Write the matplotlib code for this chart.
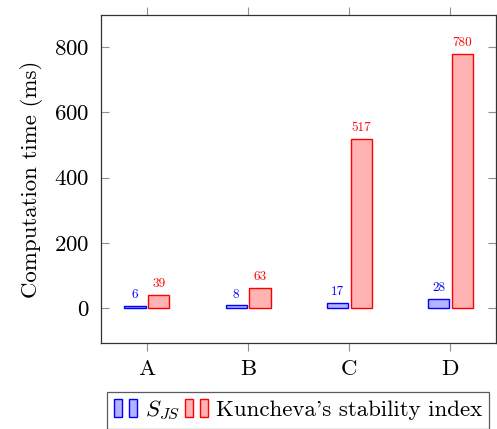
import matplotlib
matplotlib.use("Agg")
import matplotlib.pyplot as plt
from matplotlib.patches import Rectangle
from matplotlib.legend_handler import HandlerBase
from matplotlib.container import BarContainer
import numpy as np

categories = ["A", "B", "C", "D"]
sjs_times = [6, 8, 17, 28]
kuncheva_times = [39, 63, 517, 780]

plt.rcParams["font.family"] = "serif"
plt.rcParams["font.serif"] = ["cmr10", "DejaVu Serif"]
plt.rcParams["mathtext.fontset"] = "cm"
plt.rcParams["axes.formatter.use_mathtext"] = True

blue_fill = (0.7, 0.7, 1.0)
red_fill = (1.0, 0.7, 0.7)


class TwoBarHandler(HandlerBase):
    # pgfplots-style ybar legend image: two small bars side by side
    def create_artists(self, legend, orig_handle, xdescent, ydescent,
                       width, height, fontsize, trans):
        patch = orig_handle.patches[0]
        fc = patch.get_facecolor()
        ec = patch.get_edgecolor()
        bw = width * 0.3
        y0 = -ydescent - 0.05 * height
        h = height * 1.1
        r1 = Rectangle((-xdescent, y0), bw, h, facecolor=fc, edgecolor=ec,
                       lw=1.0, transform=trans)
        r2 = Rectangle((-xdescent + width * 0.6, y0), bw, h, facecolor=fc,
                       edgecolor=ec, lw=1.0, transform=trans)
        return [r1, r2]


fig = plt.figure(figsize=(4.97, 4.29), dpi=100)
ax = fig.add_axes([0.203, 0.2005, 0.795, 0.7645])

x = np.arange(len(categories))
w = 0.21
off = 0.118
b1 = ax.bar(x - off, sjs_times, w, color=blue_fill, edgecolor="blue", lw=1.0,
            label=r"$S_{JS}$")
b2 = ax.bar(x + off, kuncheva_times, w, color=red_fill, edgecolor="red", lw=1.0,
            label="Kuncheva's stability index")

for xi, v in zip(x - off, sjs_times):
    ax.annotate(str(v), (xi, v), xytext=(0, 3.5), textcoords="offset points",
                ha="center", va="bottom", color="blue", fontsize=9.5)
for xi, v in zip(x + off, kuncheva_times):
    ax.annotate(str(v), (xi, v), xytext=(0, 3.5), textcoords="offset points",
                ha="center", va="bottom", color="red", fontsize=9.5)

ax.set_xlim(-0.455, 3.45)
ax.set_ylim(-107, 898)
ax.set_xticks(x)
ax.set_xticklabels(categories)
ax.set_yticks([0, 200, 400, 600, 800])
ax.tick_params(axis="x", direction="out", length=6, width=0.8,
               color="#909090", labelsize=16.5, top=True, pad=6)
ax.tick_params(axis="y", direction="in", length=6, width=0.8,
               color="#909090", labelsize=16.5, right=True, pad=8)
ax.set_ylabel("Computation time (ms)", fontsize=16.5, labelpad=8)
for s in ax.spines.values():
    s.set_color("#333333")
    s.set_linewidth(0.9)

leg = fig.legend(handles=[b1, b2], loc="upper center",
                 bbox_to_anchor=(0.6, 1 - 392 / 429), ncol=2, fontsize=16.5,
                 frameon=True, fancybox=False, edgecolor="#333333",
                 handler_map={BarContainer: TwoBarHandler()},
                 handlelength=1.1, handletextpad=0.25, columnspacing=0.2,
                 borderpad=0.3, borderaxespad=0)
leg.get_frame().set_linewidth(0.9)

fig.savefig("out.png", dpi=100)
